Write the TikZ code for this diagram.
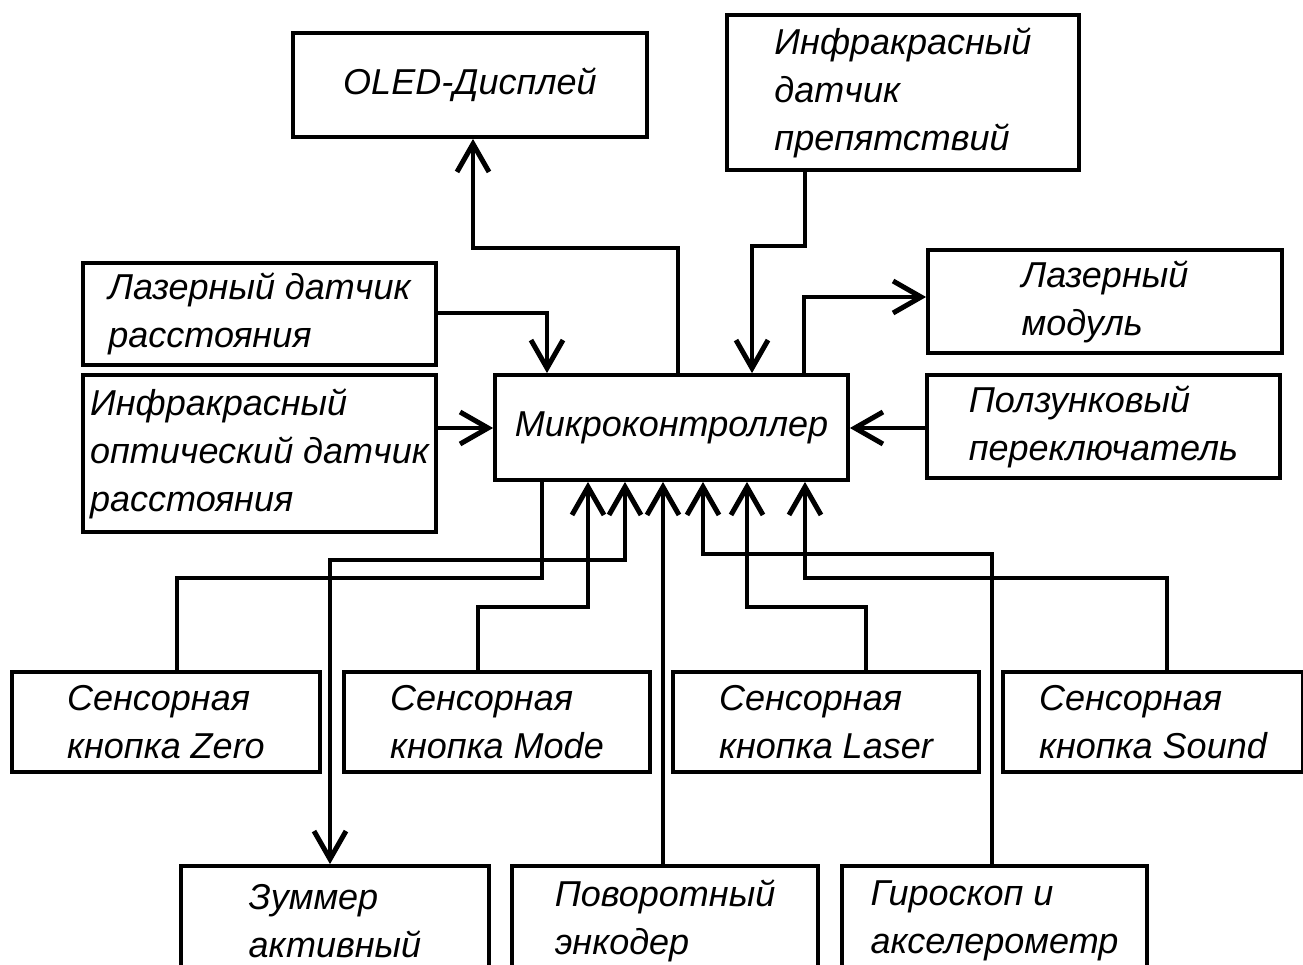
\documentclass[tikz,border=0pt]{standalone}
\usepackage{fontspec}
\setmainfont{Liberation Sans}
\usetikzlibrary{arrows.meta}

\begin{document}
\begin{tikzpicture}[
    x=1pt, y=-1pt,
    vbarb/.tip={Straight Barb[length=28pt, width=32pt, line width=5pt]},
    block/.style={rectangle, draw=black, line width=3.8pt, align=left, inner sep=0pt, font=\fontsize{36}{48}\selectfont\itshape},
    link/.style={line width=3.8pt},
    arr/.style={link, -vbarb},
    both/.style={link, vbarb-vbarb}
]
    \useasboundingbox (0,0) rectangle (1303,964);

    \node[block, minimum width=354pt, minimum height=104pt] (oled) at (470,85) {OLED-Дисплей};
    \node[block, minimum width=352pt, minimum height=155pt] (irobs) at (903,92.5) {Инфракрасный\\датчик\\препятствий};
    \node[block, minimum width=353pt, minimum height=102pt] (laserdist) at (259.5,314) {Лазерный датчик\\расстояния};
    \node[block, minimum width=353pt, minimum height=157pt] (iroptic) at (259.5,453.5) {Инфракрасный\\оптический датчик\\расстояния};
    \node[block, minimum width=353pt, minimum height=105pt] (mcu) at (671.5,427.5) {Микроконтроллер};
    \node[block, minimum width=354pt, minimum height=103pt] (lasermod) at (1105,301.5) {Лазерный\\модуль};
    \node[block, minimum width=353pt, minimum height=103pt] (slider) at (1103.5,426.5) {Ползунковый\\переключатель};

    \node[block, minimum width=308pt, minimum height=100pt] (zero) at (166,722) {Сенсорная\\кнопка Zero};
    \node[block, minimum width=306pt, minimum height=100pt] (mode) at (497,722) {Сенсорная\\кнопка Mode};
    \node[block, minimum width=306pt, minimum height=100pt] (laserbtn) at (826,722) {Сенсорная\\кнопка Laser};
    \node[block, minimum width=300pt, minimum height=100pt] (sound) at (1153,722) {Сенсорная\\кнопка Sound};

    \node[block, minimum width=308pt, minimum height=110pt] (zummer) at (335,921) {Зуммер\\активный};
    \node[block, minimum width=306pt, minimum height=110pt] (encoder) at (665,921) {Поворотный\\энкодер};
    \node[block, minimum width=305pt, minimum height=110pt] (gyro) at (994.5,921) {Гироскоп и\\акселерометр};

    \draw[arr] (mcu.north -| 678,0) |- (473,248) -- (oled.south -| 473,0);
    \draw[arr] (irobs.south -| 805,0) |- (752,246) -- (mcu.north -| 752,0);
    \draw[arr] (laserdist.east |- 0,313) -| (mcu.north -| 547,0);
    \draw[arr] (iroptic.east |- 0,428) -- (mcu.west |- 0,428);
    \draw[arr] (mcu.north -| 804,0) |- (lasermod.west |- 0,297);
    \draw[arr] (slider.west |- 0,428) -- (mcu.east |- 0,428);

    \draw[link] (zero.north -| 177,0) |- (542,578) -- (mcu.south -| 542,0);
    \draw[both] (mcu.south -| 625,0) |- (330,560) -- (zummer.north -| 330,0);
    \draw[arr] (mode.north -| 478,0) |- (588,607) -- (mcu.south -| 588,0);
    \draw[arr] (encoder.north -| 663,0) -- (mcu.south -| 663,0);
    \draw[arr] (gyro.north -| 992,0) |- (703,554) -- (mcu.south -| 703,0);
    \draw[arr] (laserbtn.north -| 866,0) |- (747,607) -- (mcu.south -| 747,0);
    \draw[arr] (sound.north -| 1167,0) |- (805,578) -- (mcu.south -| 805,0);
\end{tikzpicture}
\end{document}
